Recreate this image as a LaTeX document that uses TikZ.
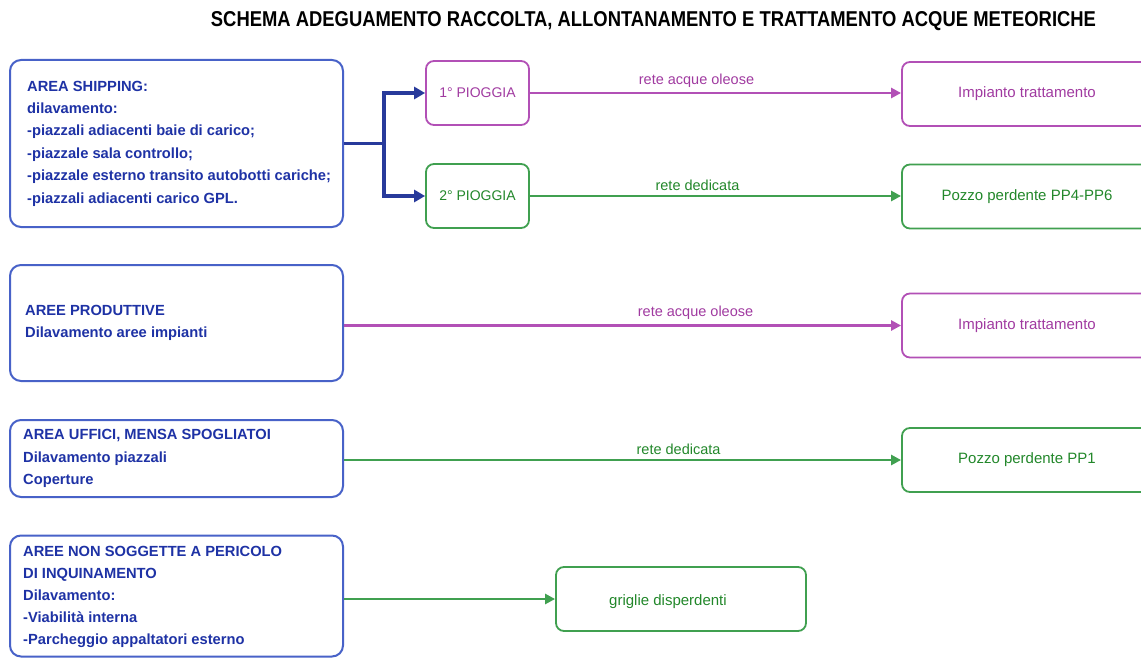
\documentclass[tikz,border=0pt]{standalone}
\usepackage{fontspec}
\setmainfont{Liberation Sans}
\usetikzlibrary{arrows.meta,calc}
\definecolor{bborder}{RGB}{72,98,200}
\definecolor{btext}{RGB}{30,50,165}
\definecolor{bline}{RGB}{40,58,155}
\definecolor{mborder}{RGB}{178,80,182}
\definecolor{mtext}{RGB}{160,58,160}
\definecolor{gborder}{RGB}{64,160,80}
\definecolor{gtext}{RGB}{34,135,42}
\tikzset{
  leftbox/.style={draw=bborder, line width=2pt, rounded corners=11pt, minimum width=333pt, inner sep=0pt, fill=white},
  lefttext/.style={anchor=west, align=left, text=btext, inner sep=0pt, font=\bfseries\fontsize{14.7}{22.2}\selectfont},
  mbox/.style={draw=mborder, line width=1.8pt, rounded corners=8pt, inner sep=0pt, text=mtext, font=\fontsize{15}{18}\selectfont},
  gbox/.style={draw=gborder, line width=1.8pt, rounded corners=8pt, inner sep=0pt, text=gtext, font=\fontsize{15}{18}\selectfont},
  smallbox/.style={minimum width=103pt, minimum height=64pt, font=\fontsize{14}{16}\selectfont},
  bigbox/.style={minimum width=250pt, minimum height=64pt},
  mlink/.style={draw=mborder, line width=2.6pt, -{Triangle[length=10pt,width=10pt]}},
  glink/.style={draw=gborder, line width=2.6pt, -{Triangle[length=10pt,width=10pt]}},
  blink/.style={draw=bline, line width=3.2pt},
  blinkarrow/.style={blink, -{Triangle[length=11pt,width=12pt]}},
  mlabel/.style={text=mtext, font=\fontsize{14.5}{16}\selectfont, inner sep=0pt},
  glabel/.style={text=gtext, font=\fontsize{14.5}{16}\selectfont, inner sep=0pt}
}
\begin{document}
\begin{tikzpicture}[x=1pt,y=-1pt]
\useasboundingbox (0,0) rectangle (1141,658);
\clip (0,0) rectangle (1141,658);

% title
\node (title) at (653.5,21) {\resizebox{885pt}{15pt}{\bfseries SCHEMA ADEGUAMENTO RACCOLTA, ALLONTANAMENTO E TRATTAMENTO ACQUE METEORICHE}};

% left boxes
\node[leftbox, minimum height=167pt] (A) at (176.5,143.5) {};
\node[lefttext, font=\bfseries\fontsize{14.7}{22.4}\selectfont] (At) at ([xshift=18pt]A.west) {AREA SHIPPING:\\dilavamento:\\-piazzali adiacenti baie di carico;\\-piazzale sala controllo;\\-piazzale esterno transito autobotti cariche;\\-piazzali adiacenti carico GPL.};

\node[leftbox, minimum height=116pt] (B) at (176.5,323) {};
\node[lefttext] (Bt) at ([xshift=16pt]B.west) {AREE PRODUTTIVE\\Dilavamento aree impianti};

\node[leftbox, minimum height=77pt] (C) at (176.5,458.5) {};
\node[lefttext] (Ct) at ([xshift=14pt]C.west) {AREA UFFICI, MENSA SPOGLIATOI\\Dilavamento piazzali\\Coperture};

\node[leftbox, minimum height=121pt] (D) at (176.5,596) {};
\node[lefttext] (Dt) at ([xshift=14pt,yshift=-1pt]D.west) {AREE NON SOGGETTE A PERICOLO\\DI INQUINAMENTO\\Dilavamento:\\-Viabilità interna\\-Parcheggio appaltatori esterno};

% middle boxes
\node[mbox, smallbox] (P1) at (477.5,93) {1° PIOGGIA};
\node[gbox, smallbox] (P2) at (477.5,196) {2° PIOGGIA};

% right boxes
\node[mbox, bigbox] (R1) at (1027,94) {Impianto trattamento};
\node[gbox, bigbox] (R2) at (1027,196.5) {Pozzo perdente PP4-PP6};
\node[mbox, bigbox] (R3) at (1027,325.5) {Impianto trattamento};
\node[gbox, bigbox] (R4) at (1027,460) {Pozzo perdente PP1};
\node[gbox, minimum width=250pt, minimum height=64pt, label={[text=gtext, font=\fontsize{15}{18}\selectfont, xshift=-13pt, yshift=-3pt]center:griglie disperdenti}] (G) at (681,599) {};

% blue split connector
\draw[blink] (A.east) -- ++(40,0) coordinate (j);
\draw[blinkarrow] (j) |- (P1.west);
\draw[blinkarrow] (j) |- (P2.west);

% horizontal links
\draw[mlink] (P1.east) -- (P1.east -| R1.west) node[midway, above=4pt, mlabel, xshift=-19pt] (l1) {rete acque oleose};
\draw[glink] (P2.east) -- (P2.east -| R2.west) node[midway, above=4pt, glabel, xshift=-18pt] (l2) {rete dedicata};
\draw[mlink] (B.east |- R3.west) -- (R3.west) node[midway, above=5pt, mlabel, xshift=73pt] (l3) {rete acque oleose};
\draw[glink] (C.east |- R4.west) -- (R4.west) node[midway, above=4pt, glabel, xshift=56pt] (l4) {rete dedicata};
\draw[glink] (D.east |- G.west) -- (G.west);
\end{tikzpicture}
\end{document}
